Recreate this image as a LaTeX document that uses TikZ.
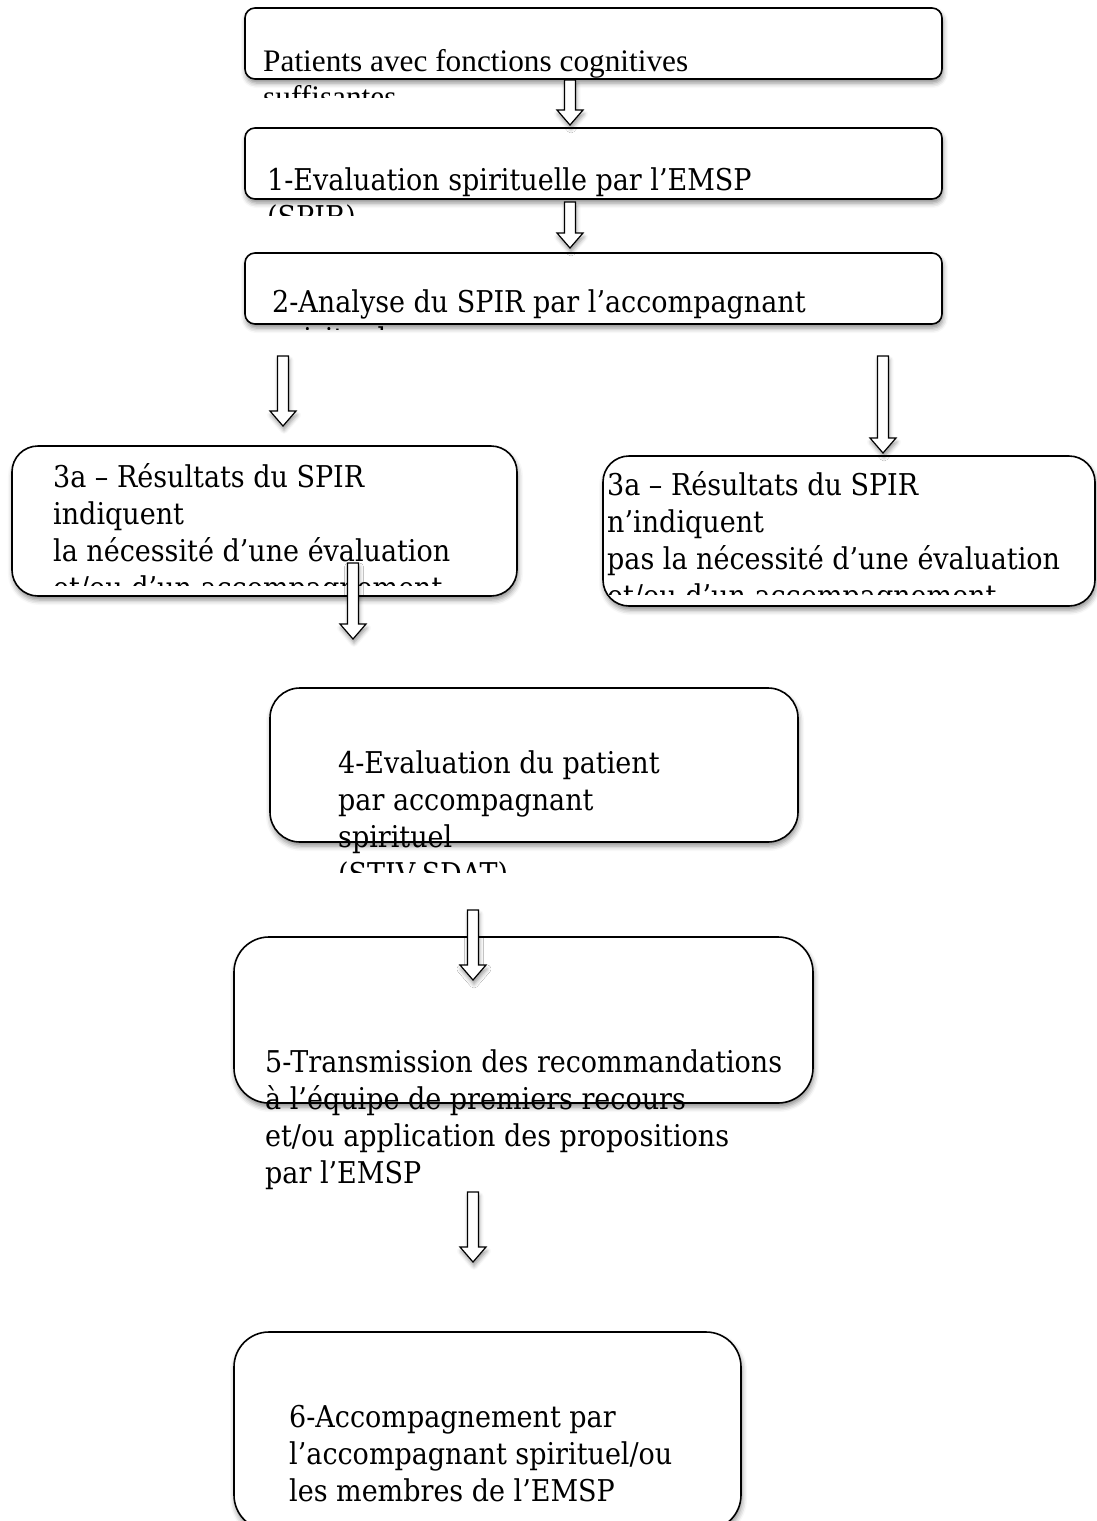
\documentclass[tikz,border=0pt]{standalone}
\usepackage{fontspec}
\usetikzlibrary{positioning,calc,shadows.blur}
\newfontfamily\cambriafont{DejaVu Serif Condensed}
\newfontfamily\timesfont{Liberation Serif}
\newcommand{\blockarrow}[2]{%
  \draw[hollow] ($(#1)+(-5.5,0)$) -- ($(#2)+(-5.5,-15)$) -- ($(#2)+(-13,-15)$) -- (#2)
    -- ($(#2)+(13,-15)$) -- ($(#2)+(5.5,-15)$) -- ($(#1)+(5.5,0)$) -- cycle;}

\begin{document}
\begin{tikzpicture}
    [
    x=1pt, y=-1pt,
    box/.style={rectangle,draw,fill=white,line width=1.6pt,inner sep=0pt,rounded corners=#1,
      blur shadow={shadow xshift=1pt,shadow yshift=-4pt,shadow blur radius=5pt,shadow opacity=45}},
    box/.default=10pt,
    % anchor base west = baseline of the last line
    txt/.style={anchor=base west,align=left,inner sep=0pt,font=\cambriafont\fontsize{30}{37}\selectfont},
    hollow/.style={draw,fill=white,line width=1.2pt,line join=miter,
      blur shadow={shadow xshift=1pt,shadow yshift=-4pt,shadow blur radius=4pt,shadow opacity=40}}
    ]
    \useasboundingbox (0,0) rectangle (1097,1521);
    % boxes
    \node (b0) at (593.5,43.5) [box,minimum width=697pt,minimum height=71pt] {};
    \node (b1) at (593.5,163.5) [box,minimum width=697pt,minimum height=71pt] {};
    \node (b2) at (593.5,288.5) [box,minimum width=697pt,minimum height=71pt] {};
    \node (b3a) at (264.5,521) [box=26pt,minimum width=505pt,minimum height=150pt] {};
    \node (b3b) at (849,531) [box=26pt,minimum width=492pt,minimum height=150pt] {};
    \node (b4) at (534,765) [box=30pt,minimum width=528pt,minimum height=154pt] {};
    \node (b5) at (523.5,1020) [box=35pt,minimum width=579pt,minimum height=166pt] {};
    \node (b6) at (487.5,1431) [box=35pt,minimum width=507pt,minimum height=198pt] {};
    % texts, cut off where the boxes cut them
    \begin{scope}
      \clip (0,0) rectangle (1097,97);
      \node (t0) at (263,107) [txt,font=\timesfont\fontsize{31.3}{36}\selectfont]
        {Patients avec fonctions cognitives\\suffisantes};
    \end{scope}
    \begin{scope}
      \clip (0,110) rectangle (1097,215);
      \node (t1) at (267,227) [txt] {1-Evaluation spirituelle par l’EMSP\\(SPIR)};
    \end{scope}
    \begin{scope}
      \clip (0,240) rectangle (1097,329);
      \node (t2) at (272,349) [txt] {2-Analyse du SPIR par l’accompagnant\\spirituel};
    \end{scope}
    \begin{scope}
      \clip (0,440) rectangle (560,585);
      \node (t3a) at (53,598) [txt]
        {3a – Résultats du SPIR\\indiquent\\la nécessité d’une évaluation\\et/ou d’un accompagnement};
    \end{scope}
    \begin{scope}
      \clip (560,440) rectangle (1097,594);
      \node (t3b) at (607,606) [txt]
        {3a – Résultats du SPIR\\n’indiquent\\pas la nécessité d’une évaluation\\et/ou d’un accompagnement};
    \end{scope}
    \begin{scope}
      \clip (0,680) rectangle (1097,872);
      \node (t4) at (338,884) [txt]
        {4-Evaluation du patient\\par accompagnant\\spirituel\\(STIV-SDAT)};
    \end{scope}
    \node (t5) at (265,1183) [txt]
      {5-Transmission des recommandations\\à l’équipe de premiers recours\\et/ou application des propositions\\par l’EMSP};
    \node (t6) at (289,1501) [txt]
      {6-Accompagnement par\\l’accompagnant spirituel/ou\\les membres de l’EMSP};
    % arrows
    \coordinate (a0s) at (570,80);   \coordinate (a0e) at (570,125);
    \coordinate (a1s) at (570,202);  \coordinate (a1e) at (570,248);
    \coordinate (a2s) at (283,356);  \coordinate (a2e) at (283,426);
    \coordinate (a3s) at (883,356);  \coordinate (a3e) at (883,453);
    \coordinate (a4s) at (353,563);  \coordinate (a4e) at (353,639);
    \coordinate (a5s) at (473,910);  \coordinate (a5e) at (473,980);
    \coordinate (a6s) at (473,1192); \coordinate (a6e) at (473,1262);
    \blockarrow{a0s}{a0e}
    \blockarrow{a1s}{a1e}
    \blockarrow{a2s}{a2e}
    \blockarrow{a3s}{a3e}
    \blockarrow{a4s}{a4e}
    \blockarrow{a5s}{a5e}
    \blockarrow{a6s}{a6e}
\end{tikzpicture}
\end{document}
